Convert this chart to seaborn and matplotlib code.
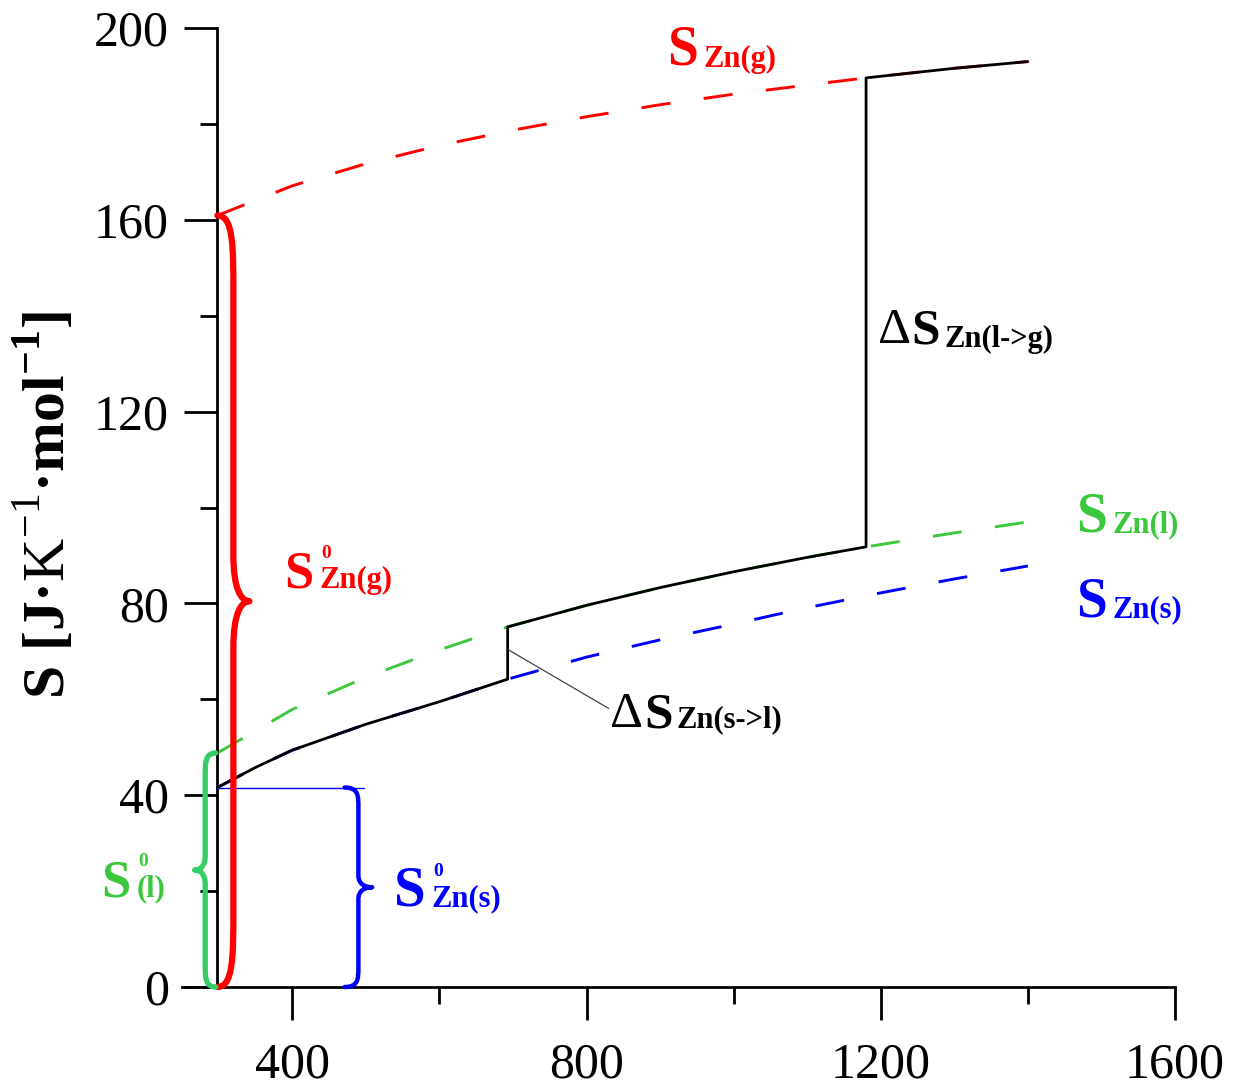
import matplotlib
matplotlib.use("Agg")
import matplotlib.pyplot as plt
import matplotlib.transforms as mtransforms
from matplotlib.path import Path
from matplotlib.patches import PathPatch
from matplotlib.ticker import MultipleLocator
import numpy as np
import seaborn as sns

# entropy of Zn phases (T in K, S in J/(K mol))
T_SOLID = [298, 350, 400, 450, 500, 600, 692.7, 800, 900, 1000, 1100, 1200, 1300, 1400]
S_SOLID = [41.6, 45.8, 49.4, 52.1, 54.8, 59.5, 64.2, 68.8, 72.4, 75.7, 79.1, 82.2, 85.1, 87.8]

T_LIQUID = [298, 400, 500, 600, 692.7, 800, 900, 1000, 1100, 1180, 1300, 1400]
S_LIQUID = [48.8, 57.9, 64.6, 70.3, 75.1, 79.6, 83.3, 86.6, 89.6, 91.8, 94.7, 97.0]

T_GAS = [298, 400, 500, 600, 700, 800, 900, 1000, 1100, 1180, 1300, 1400]
S_GAS = [160.9, 167.1, 171.7, 175.5, 178.7, 181.5, 184.0, 186.2, 188.1, 189.6, 191.6, 193.0]

T_MELT = 692.7
T_BOIL = 1180
T_REF = 298

RED = "#ff0000"
GREEN = "#3cc83c"
GREEN_BRACE = "#36cc66"
BLUE = "#0000ff"

sns.set_theme(style="ticks")
plt.rcParams["font.family"] = ["Liberation Serif", "DejaVu Serif"]
plt.rcParams["text.color"] = "black"
plt.rcParams["axes.labelcolor"] = "black"
plt.rcParams["mathtext.fontset"] = "custom"
plt.rcParams["mathtext.rm"] = "Liberation Serif"
plt.rcParams["mathtext.bf"] = "Liberation Serif:bold"

fig, ax = plt.subplots(figsize=(12.35, 10.9), dpi=100)
fig.subplots_adjust(left=0.1474, right=0.9514, bottom=0.0945, top=0.9743)

dash = (0, (10, 11.5))
sns.lineplot(x=T_SOLID, y=S_SOLID, color=BLUE, linewidth=2.1, linestyle=dash,
             estimator=None, sort=False, ax=ax, zorder=2)
sns.lineplot(x=T_LIQUID, y=S_LIQUID, color=GREEN, linewidth=2.1, linestyle=dash,
             estimator=None, sort=False, ax=ax, zorder=2)
sns.lineplot(x=T_GAS, y=S_GAS, color=RED, linewidth=2.1, linestyle=dash,
             estimator=None, sort=False, ax=ax, zorder=2)

# total entropy: solid -> liquid -> gas with the two jumps
tot_T, tot_S = [], []
for t, s in zip(T_SOLID, S_SOLID):
  if t <= T_MELT:
    tot_T.append(t); tot_S.append(s)
for t, s in zip(T_LIQUID, S_LIQUID):
  if T_MELT <= t <= T_BOIL:
    tot_T.append(t); tot_S.append(s)
for t, s in zip(T_GAS, S_GAS):
  if t >= T_BOIL:
    tot_T.append(t); tot_S.append(s)
sns.lineplot(x=tot_T, y=tot_S, color="black", linewidth=2.0, estimator=None,
             sort=False, ax=ax, zorder=3)

# axes
ax.set_xlim(250, 1600)
ax.set_ylim(0, 200)
ax.spines["top"].set_visible(False)
ax.spines["right"].set_visible(False)
ax.spines["left"].set_position(("data", T_REF))
for sp in ("left", "bottom"):
  ax.spines[sp].set_linewidth(2)
  ax.spines[sp].set_color("black")
ax.xaxis.set_major_locator(MultipleLocator(400))
ax.xaxis.set_minor_locator(MultipleLocator(200))
ax.yaxis.set_major_locator(MultipleLocator(40))
ax.yaxis.set_minor_locator(MultipleLocator(20))
ax.tick_params(which="major", direction="out", length=23.8, width=2,
               labelsize=36, colors="black")
ax.tick_params(which="minor", direction="out", length=12.2, width=2,
               colors="black")
ax.tick_params(axis="x", pad=16)
ax.tick_params(axis="y", pad=11)
ax.grid(False)

ax.set_ylabel(r"S [J·$\mathrm{K}^{-1}$·mol$^{\mathbf{-1}}$]", fontsize=43,
              fontweight="bold", color="black")
ax.yaxis.set_label_coords(-0.105, 0.503)


def brace(x0, y0, y1, w, color, lw):
  h = y1 - y0
  ym = (y0 + y1) / 2
  q = 0.5 * w
  verts = [
      (x0, y1),
      (x0 + q, y1), (x0 + q, y1 - 0.04 * h), (x0 + q, y1 - 0.1 * h),
      (x0 + q, ym + 0.06 * h),
      (x0 + q, ym + 0.015 * h), (x0 + 0.75 * w, ym), (x0 + w, ym),
      (x0 + 0.75 * w, ym), (x0 + q, ym - 0.015 * h), (x0 + q, ym - 0.06 * h),
      (x0 + q, y0 + 0.1 * h),
      (x0 + q, y0 + 0.04 * h), (x0 + q, y0), (x0, y0),
  ]
  codes = [Path.MOVETO,
           Path.CURVE4, Path.CURVE4, Path.CURVE4,
           Path.LINETO,
           Path.CURVE4, Path.CURVE4, Path.CURVE4,
           Path.CURVE4, Path.CURVE4, Path.CURVE4,
           Path.LINETO,
           Path.CURVE4, Path.CURVE4, Path.CURVE4]
  ax.add_patch(PathPatch(Path(verts, codes), fill=False, edgecolor=color,
                         lw=lw, capstyle="round", joinstyle="round",
                         zorder=5, clip_on=False))


brace(T_REF, 0, S_GAS[0], 43.6, RED, 4.5)
brace(296, 0, S_LIQUID[0], -29, GREEN_BRACE, 3.8)
brace(471, 0, S_SOLID[0], 37.5, BLUE, 3.2)
ax.plot([T_REF, 498], [S_SOLID[0], S_SOLID[0]], color=BLUE, lw=1, zorder=4)

# leader line for the fusion step
ax.plot([694, 830], [70.3, 58.1], color="#444444", lw=0.9, zorder=4)

renderer = fig.canvas.get_renderer()


def symbol(x, y, main, sub, sup=None, color="black", size=40, subsize=22,
           delta=False, gap=6, sub_dy=-3, sup_dy=30):
  if delta:
    d = ax.text(x, y, "Δ", fontsize=size, color=color, ha="left",
                va="baseline")
    dw = d.get_window_extent(renderer).width
    tr = mtransforms.offset_copy(ax.transData, fig=fig, x=dw + 1, y=0,
                                 units="dots")
    m = ax.text(x, y, main, fontsize=size, color=color, fontweight="bold",
                ha="left", va="baseline", transform=tr)
    width = dw + 1 + m.get_window_extent(renderer).width
  else:
    m = ax.text(x, y, main, fontsize=size, color=color, fontweight="bold",
                ha="left", va="baseline")
    width = m.get_window_extent(renderer).width
  tr = mtransforms.offset_copy(ax.transData, fig=fig, x=width + gap,
                               y=sub_dy, units="dots")
  ax.text(x, y, sub, fontsize=subsize, color=color, fontweight="bold",
          ha="left", va="baseline", transform=tr)
  if sup is not None:
    tr = mtransforms.offset_copy(ax.transData, fig=fig, x=width + gap + 2,
                                 y=sub_dy + sup_dy, units="dots")
    ax.text(x, y, sup, fontsize=14, color=color, fontweight="bold",
            ha="left", va="baseline", transform=tr)


symbol(909, 192.3, "S", "Zn(g)", color=RED, sub_dy=-2)
symbol(1195.6, 134.3, "S", "Zn(l->g)", delta=True, size=37, sub_dy=-4, gap=4)
symbol(1465, 94.9, "S", "Zn(l)", color=GREEN, sub_dy=0)
symbol(1465, 77.2, "S", "Zn(s)", color=BLUE, sub_dy=0)
symbol(832, 54.2, "S", "Zn(s->l)", delta=True, size=37, sub_dy=0, gap=4)
symbol(388.3, 83.4, "S", "Zn(g)", sup="0", color=RED, size=38, sub_dy=-1)
symbol(537.6, 17.1, "S", "Zn(s)", sup="0", color=BLUE, size=41, sub_dy=-1)
symbol(140, 18.8, "S", "(l)", sup="0", color=GREEN, size=38, sub_dy=1)

fig.savefig("out.png", dpi=100)
